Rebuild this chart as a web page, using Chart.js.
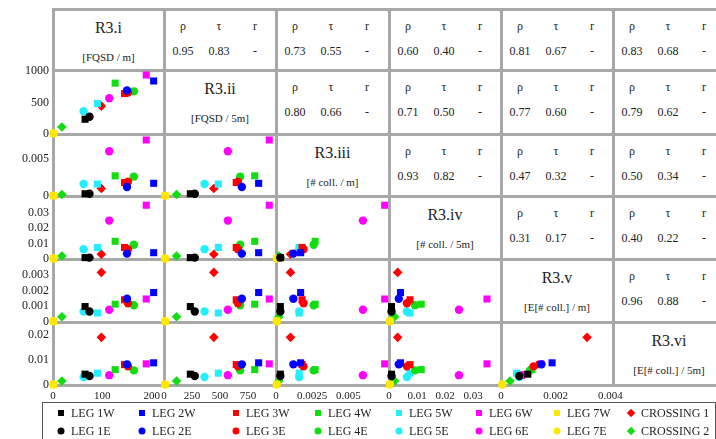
<!DOCTYPE html>
<html lang="en">
<head>
<meta charset="UTF-8">
<title>R3 scatter matrix</title>
<script src="https://cdn.jsdelivr.net/npm/chart.js"></script>
<style>
	body,html{margin:0;padding:0;background:#fff;}
	#wrap{position:relative;width:716px;height:439px;overflow:hidden;font-family:'Liberation Serif','Times New Roman',Times,'DejaVu Serif',serif;color:#222;}
	.ln{position:absolute;background:#a8a8a8;}
	.cv{position:absolute;}
	.txt{position:absolute;transform:translate(-50%,-50%);white-space:nowrap;}
	.ttl{font-size:16px;}
	.unit{font-size:11px;}
	.num{font-size:12px;}
	#legend{position:absolute;left:42px;top:402px;width:672px;height:50px;border:1px solid #555;}
	.lg{position:absolute;font-size:12px;white-space:nowrap;transform:translateY(-50%);}
	.mk{position:absolute;transform:translate(-50%,-50%);}
</style>
</head>
<body>
<div id="wrap"><div id="legend"></div></div>
<script>
	// names on the diagonal
	var varNames = ['R3.i','R3.ii','R3.iii','R3.iv','R3.v','R3.vi'];
	var varUnits = ['[FQSD / m]','[FQSD / 5m]','[# coll. / m]','[# coll. / 5m]','[E[# coll.] / m]','[E[# coll.] / 5m]'];

	// one point per leg / crossing
	var seriesNames = ['LEG 1W','LEG 1E','LEG 2W','LEG 2E','LEG 3W','LEG 3E','LEG 4W','LEG 4E',
		'LEG 5W','LEG 5E','LEG 6W','LEG 6E','LEG 7W','LEG 7E','CROSSING 1','CROSSING 2'];

	var r3i   = [65, 74, 204, 150, 145, 152, 126, 164, 90, 62, 189, 114, 1, 1, 98, 18];
	var r3ii  = [235, 275, 845, 695, 645, 660, 810, 680, 485, 362, 940, 570, 10, 10, 445, 112];
	var r3iii = [0.0003, 0.0003, 0.0017, 0.0012, 0.0018, 0.0019, 0.0027, 0.0026, 0.0016, 0.0016, 0.0075, 0.0060, 0.00005, 0.00005, 0.0010, 0.0002];
	var r3iv  = [0.0009, 0.0009, 0.0041, 0.0035, 0.0075, 0.0064, 0.0115, 0.0093, 0.0075, 0.0064, 0.035, 0.025, 0.0003, 0.0003, 0.0031, 0.002];
	var r3v   = [0.00098, 0.00067, 0.00187, 0.00148, 0.00141, 0.00119, 0.00113, 0.00106, 0.00057, 0.00067, 0.00146, 0.00078, 0.00005, 0.00005, 0.00315, 0.00033];
	var r3vi  = [0.0043, 0.0036, 0.0088, 0.0082, 0.0081, 0.0074, 0.0061, 0.0058, 0.0047, 0.0032, 0.0084, 0.0039, 0.0002, 0.0002, 0.0189, 0.0016];

	// tick labels per variable
	var ticksX = [[0,100,200],[0,250,500,750],[0,0.0025,0.005],[0,0.01,0.02,0.03],[0,0.002,0.004],[]];
	var ticksY = [[],[0,500,1000],[0,0.005],[0,0.01,0.02,0.03],[0,0.001,0.002,0.003],[0,0.01,0.02]];
	var maxX = [225, 1000, 0.0078, 0.040, 0.0041, 0.025];
	var maxY = [225, 1020, 0.0083, 0.041, 0.0040, 0.025];

	// correlations in the upper triangle, row by row
	var rhoVals = [['0.95','0.73','0.60','0.81','0.83'],['0.80','0.71','0.77','0.79'],['0.93','0.47','0.50'],['0.31','0.40'],['0.96']];
	var tauVals = [['0.83','0.55','0.40','0.67','0.68'],['0.66','0.50','0.60','0.62'],['0.82','0.32','0.34'],['0.17','0.22'],['0.88']];

	// styles
	var colors = ['#000','#000','#0000ff','#0000ff','#ff0000','#ff0000','#11dd11','#11dd11',
		'#22eeff','#22eeff','#ff00ff','#ff00ff','#ffe800','#ffe800','#ff0000','#11dd11'];
	var shapes = [];
	for(var k=0;k<16;k++){ shapes.push(k>=14 ? 'rectRot' : (k%2==0 ? 'rect' : 'circle')); }
	var radius = {rect:5, circle:4.2, rectRot:4.8};

	var colX = [53,164,276,389,501,613,725];
	var rowY = [9,70,134,196,259,322,385];
	var vars = [r3i, r3ii, r3iii, r3iv, r3v, r3vi];
	var wrap = document.getElementById('wrap');

	function addDiv(cls, css, html){
		var d = document.createElement('div');
		d.className = cls;
		for(var p in css){ d.style[p] = css[p]; }
		if(html !== undefined) d.innerHTML = html;
		wrap.appendChild(d);
		return d;
	}

	// cell borders
	colX.forEach(function(x){
		addDiv('ln',{left:(x-1.5)+'px',top:(rowY[0]-1.5)+'px',width:'3px',height:(rowY[6]-rowY[0]+3)+'px'});
	});
	rowY.forEach(function(y){
		addDiv('ln',{left:(colX[0]-1.5)+'px',top:(y-1.5)+'px',width:(716-colX[0]+2)+'px',height:'3px'});
	});

	// diagonal + upper triangle text
	for(var i=0;i<6;i++){
		var cx = (colX[i]+colX[i+1])/2;
		addDiv('txt ttl',{left:cx+'px',top:(rowY[i]+19)+'px'},varNames[i]);
		addDiv('txt unit',{left:cx+'px',top:(rowY[i]+48)+'px'},varUnits[i]);
		for(var j=i+1;j<6;j++){
			var x0 = colX[j];
			addDiv('txt num',{left:(x0+19)+'px',top:(rowY[i]+17)+'px'},'&rho;');
			addDiv('txt num',{left:(x0+55)+'px',top:(rowY[i]+17)+'px'},'&tau;');
			addDiv('txt num',{left:(x0+91)+'px',top:(rowY[i]+17)+'px'},'r');
			addDiv('txt num',{left:(x0+19)+'px',top:(rowY[i]+42)+'px'},rhoVals[i][j-i-1]);
			addDiv('txt num',{left:(x0+55)+'px',top:(rowY[i]+42)+'px'},tauVals[i][j-i-1]);
			addDiv('txt num',{left:(x0+91)+'px',top:(rowY[i]+42)+'px'},'-');
		}
	}

	function fixedTicks(list){
		return function(axis){ axis.ticks = list.map(function(v){ return {value:v}; }); };
	}
	var fontY = {family:"'Liberation Serif', 'Times New Roman', serif", size:12};
	var fontX = {family:"'Liberation Serif', 'Times New Roman', serif", size:11};

	// lower triangle scatter panels, one small chart per cell
	var M = 20;
	for(var i=1;i<6;i++){
		for(var j=0;j<i;j++){
			var showY = j==0, showX = i==5;
			var axisW = showY ? 53 : 0;
			var padL = showY ? 0 : M;
			var axisH = showX ? 20 : 0;
			var cvLeft = colX[j]-axisW-padL;
			var cvTop = rowY[i]-M;
			var w = colX[j+1]+M-cvLeft;
			var h = rowY[i+1]+axisH+M-cvTop;
			var cv = document.createElement('canvas');
			cv.className = 'cv';
			cv.setAttribute('width', w); cv.setAttribute('height', h);
			cv.style.left = cvLeft+'px'; cv.style.top = cvTop+'px';
			cv.style.width = w+'px'; cv.style.height = h+'px';
			wrap.appendChild(cv);
			var ds = seriesNames.map(function(n,k){
				return {
					label:n,
					data:[{x:vars[j][k], y:vars[i][k]}],
					pointStyle:shapes[k],
					pointRadius:radius[shapes[k]],
					backgroundColor:colors[k],
					borderColor:colors[k],
					borderWidth:0,
					clip:false
				};
			});
			var xs = {
				type:'linear',min:0,max:maxX[j],display:showX,
				grid:{display:false,drawTicks:false},border:{display:false},
				afterBuildTicks:fixedTicks(ticksX[j]),
				ticks:{font:fontX,color:'#222',padding:5,maxRotation:0,autoSkip:false,
					callback:function(v){ return String(v); }}
			};
			var ys = {
				type:'linear',min:0,max:maxY[i],display:showY,
				grid:{display:false,drawTicks:false},border:{display:false},
				afterBuildTicks:fixedTicks(ticksY[i]),
				ticks:{font:fontY,color:'#222',padding:4,autoSkip:false,
					callback:function(v){ return String(v); }}
			};
			if(showX) xs.afterFit = function(s){ s.height = 20; };
			if(showY) ys.afterFit = function(s){ s.width = 53; };
			new Chart(cv.getContext('2d'),{
				type:'scatter',
				data:{datasets:ds},
				options:{
					responsive:false,
					maintainAspectRatio:false,
					animation:false,
					devicePixelRatio:1,
					layout:{padding:{left:padL,right:M,top:M,bottom:M}},
					plugins:{legend:{display:false},tooltip:{enabled:false}},
					scales:{x:xs, y:ys}
				}
			});
		}
	}

	// legend, two rows: W legs on top, E legs below
	var legX = [61,142,236,318,399,479,557,631];
	var legY = [413,431];
	seriesNames.forEach(function(n,k){
		var col = Math.floor(k/2), row = k%2;
		var mx = legX[col], my = legY[row];
		var css = {left:mx+'px',top:my+'px',background:colors[k]};
		if(shapes[k]=='rect'){ css.width='6px'; css.height='6px'; }
		else if(shapes[k]=='circle'){ css.width='7px'; css.height='7px'; css.borderRadius='50%'; }
		else { css.width='6px'; css.height='6px'; css.transform='translate(-50%,-50%) rotate(45deg)'; }
		addDiv('mk',css);
		addDiv('lg',{left:(mx+10)+'px',top:my+'px'},n);
	});
</script>
</body>
</html>
